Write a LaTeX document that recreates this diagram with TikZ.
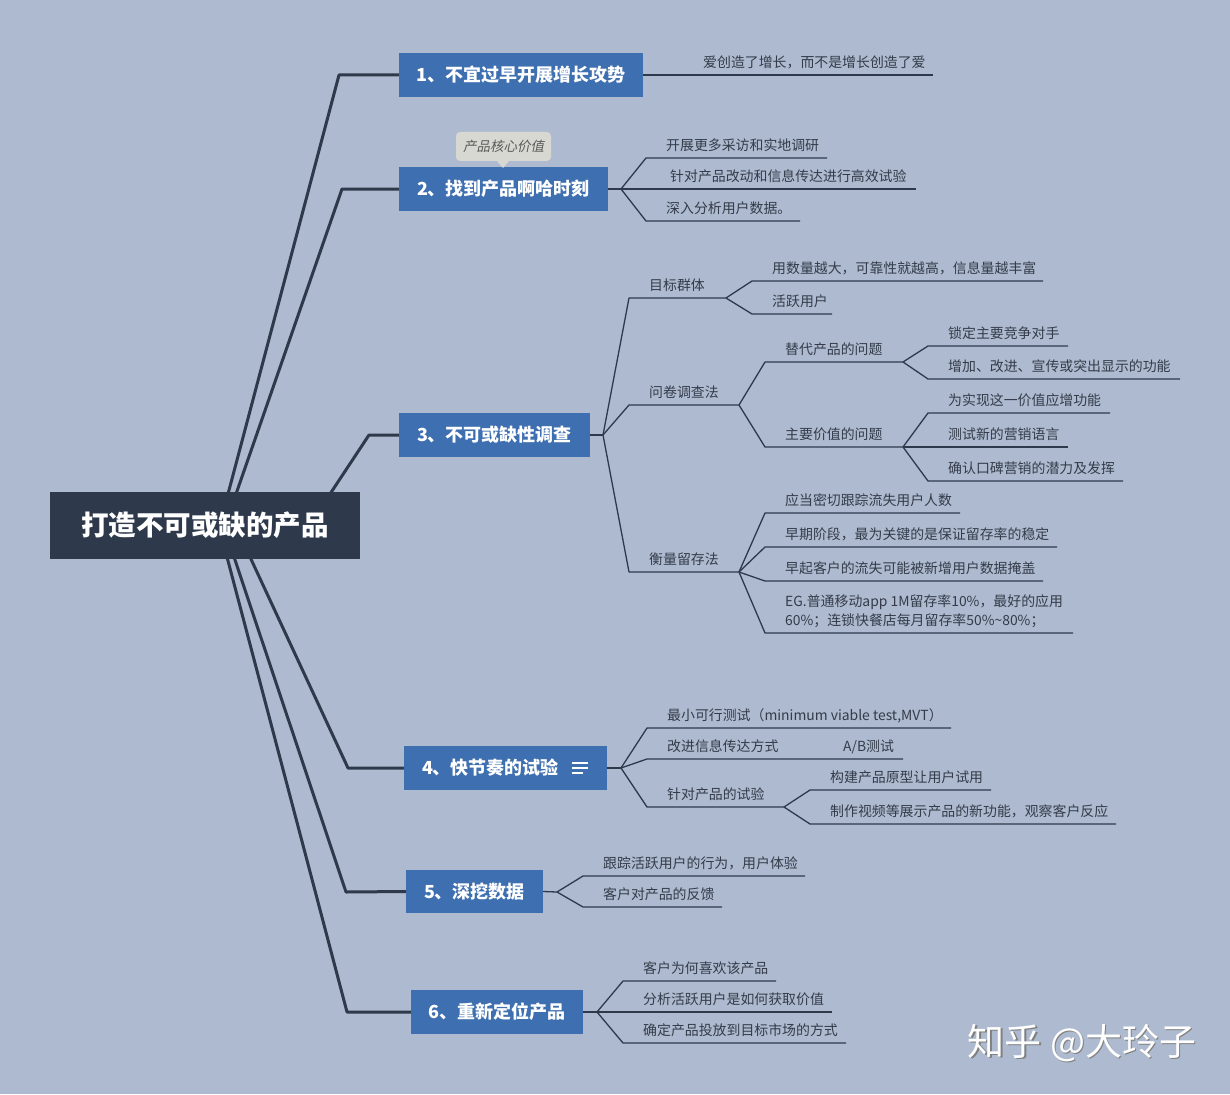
\documentclass[tikz,border=0pt]{standalone}
\usepackage{fontspec}
\setmainfont{Noto Sans CJK SC}
\newfontfamily\cjkit[FakeSlant=0.2]{Noto Sans CJK SC}
\usetikzlibrary{backgrounds}
\definecolor{bgc}{RGB}{173,186,207}
\definecolor{mainblue}{RGB}{62,111,176}
\definecolor{rootc}{RGB}{46,58,76}
\definecolor{linec}{RGB}{46,58,76}
\definecolor{txtc}{RGB}{52,60,74}
\definecolor{calloutc}{RGB}{216,216,210}
\definecolor{calltext}{RGB}{90,90,90}
\newcommand{\leafline}[6]{%
  \coordinate (#1s) at (#3,#4);
  \coordinate (#1e) at (#5,#4);
  \node[lbl] (#1) at (#3+20,#4-7.5) {#6};
  \begin{pgfonlayer}{background}
    \draw[twig] (#2) -- (#1s) -- (#1e);
  \end{pgfonlayer}}
\begin{document}
\begin{tikzpicture}[x=1pt,y=-1pt,
  mainbox/.style={fill=mainblue, text=white, font=\bfseries\fontsize{18}{20}\selectfont, minimum height=44pt, inner sep=0pt},
  lbl/.style={anchor=base west, inner sep=0pt, text=txtc, font=\fontsize{13.9}{16}\selectfont},
  trunk/.style={draw=linec, line width=3pt, line join=round},
  twig/.style={draw=linec, line width=1.3pt, line join=round}]
\useasboundingbox (0,0) rectangle (1230,1094);
\begin{pgfonlayer}{background}
  \fill[bgc] (0,0) rectangle (1230,1094);
\end{pgfonlayer}

% root and main topics
\node[fill=rootc, text=white, font=\bfseries\fontsize{27.5}{30}\selectfont, minimum width=310pt, minimum height=67pt, inner sep=0pt] (root) at (205,525.5) {打造不可或缺的产品};
\node[mainbox, minimum width=244pt] (b1) at (521,75) {1、不宜过早开展增长攻势};
\node[mainbox, minimum width=209pt] (b2) at (503.5,189) {2、找到产品啊哈时刻};
\node[mainbox, minimum width=191pt] (b3) at (494.5,435) {3、不可或缺性调查};
\node[mainbox, minimum width=203pt] (b4) at (505.5,768) {\makebox[167pt][l]{4、快节奏的试验}};
\node[mainbox, minimum width=137pt, minimum height=43pt] (b5) at (474.5,891.5) {5、深挖数据};
\node[mainbox, minimum width=172pt] (b6) at (497,1012) {6、重新定位产品};
% note icon in box 4
\draw[white, line width=1.4pt] (572,763) -- (588,763) (572,768) -- (588,768) (572,773) -- (583,773);

% callout
\node[fill=calloutc, rounded corners=4pt, minimum width=95pt, minimum height=29pt, inner sep=0pt, text=calltext, font=\cjkit\fontsize{13.5}{15}\selectfont] (tag) at (503.5,146.5) {产品核心价值};
\fill[calloutc] (496,160) -- (503,168) -- (510,160) -- cycle;

% trunks
\coordinate (s1) at (228,494); \coordinate (e1) at (339,75);
\coordinate (s2) at (236,494); \coordinate (e2) at (342,189);
\coordinate (s3) at (330,494); \coordinate (e3) at (369,435);
\coordinate (s4) at (250,557); \coordinate (e4) at (348,768);
\coordinate (s5) at (234,557); \coordinate (e5) at (346,892);
\coordinate (s6) at (227,557); \coordinate (e6) at (347,1012);
\begin{pgfonlayer}{background}
  \draw[trunk] (s1) -- (e1) -- (b1.west);
  \draw[trunk] (s2) -- (e2) -- (b2.west);
  \draw[trunk] (s3) -- (e3) -- (b3.west);
  \draw[trunk] (s4) -- (e4) -- (b4.west);
  \draw[trunk] (s5) -- (e5) -- (b5.west);
  \draw[trunk] (s6) -- (e6) -- (b6.west);
\end{pgfonlayer}

% branch 1
\coordinate (f1a) at (695,75); \coordinate (f1b) at (933,75);
\node[lbl] (t1a) at (703,67.5) {爱创造了增长，而不是增长创造了爱};
\begin{pgfonlayer}{background}
  \draw[twig] (b1.east) -- (f1a) -- (f1b);
\end{pgfonlayer}

% branch 2
\coordinate (f2) at (621,189);
\begin{pgfonlayer}{background}\draw[twig] (b2.east) -- (f2);\end{pgfonlayer}
\leafline{c21}{f2}{646}{158}{827}{开展更多采访和实地调研}
\leafline{c22}{f2}{650}{189}{916}{针对产品改动和信息传达进行高效试验}
\leafline{c23}{f2}{646}{221}{800}{深入分析用户数据。}

% branch 3
\coordinate (f3) at (603,435);
\begin{pgfonlayer}{background}\draw[twig] (b3.east) -- (f3);\end{pgfonlayer}
\leafline{A}{f3}{629}{298}{726}{目标群体}
\leafline{A1}{Ae}{752}{281}{1043}{用数量越大，可靠性就越高，信息量越丰富}
\leafline{A2}{Ae}{752}{314}{832}{活跃用户}
\leafline{B}{f3}{629}{405}{739}{问卷调查法}
\leafline{B1}{Be}{765}{362}{903}{替代产品的问题}
\leafline{B11}{B1e}{928}{346}{1068}{锁定主要竞争对手}
\leafline{B12}{B1e}{928}{379}{1180}{增加、改进、宣传或突出显示的功能}
\leafline{B2}{Be}{765}{447}{903}{主要价值的问题}
\leafline{B21}{B2e}{928}{413}{1110}{为实现这一价值应增功能}
\leafline{B22}{B2e}{928}{447}{1068}{测试新的营销语言}
\leafline{B23}{B2e}{928}{481}{1123}{确认口碑营销的潜力及发挥}
\leafline{C}{f3}{629}{572}{739}{衡量留存法}
\leafline{C1}{Ce}{765}{513}{960}{应当密切跟踪流失用户人数}
\leafline{C2}{Ce}{765}{547}{1057}{早期阶段，最为关键的是保证留存率的稳定}
\leafline{C3}{Ce}{765}{581}{1043}{早起客户的流失可能被新增用户数据掩盖}
\coordinate (C4s) at (765,633); \coordinate (C4e) at (1073,633);
\node[anchor=south west, inner sep=0pt, text=txtc, align=left, font=\fontsize{13.9}{19}\selectfont] (C4) at (785,627.8) {EG.普通移动app 1M留存率10\%，最好的应用\\60\%；连锁快餐店每月留存率50\%\textasciitilde80\%；};
\begin{pgfonlayer}{background}\draw[twig] (Ce) -- (C4s) -- (C4e);\end{pgfonlayer}

% branch 4
\coordinate (f4) at (621,768);
\begin{pgfonlayer}{background}\draw[twig] (b4.east) -- (f4);\end{pgfonlayer}
\leafline{D1}{f4}{647}{728}{951}{最小可行测试（minimum viable test,MVT）}
\leafline{D2}{f4}{647}{759}{903}{改进信息传达方式}
\node[lbl] (D2b) at (843,751.5) {A/B测试};
\leafline{D3}{f4}{647}{807}{784}{针对产品的试验}
\leafline{D31}{D3e}{810}{790}{991}{构建产品原型让用户试用}
\leafline{D32}{D3e}{810}{824}{1116}{制作视频等展示产品的新功能，观察客户反应}

% branch 5
\coordinate (f5) at (557,892);
\begin{pgfonlayer}{background}\draw[twig] (b5.east) -- (f5);\end{pgfonlayer}
\leafline{E1}{f5}{583}{876}{805}{跟踪活跃用户的行为，用户体验}
\leafline{E2}{f5}{583}{907}{722}{客户对产品的反馈}

% branch 6
\coordinate (f6) at (597,1012);
\begin{pgfonlayer}{background}\draw[twig] (b6.east) -- (f6);\end{pgfonlayer}
\leafline{F1}{f6}{623}{981}{776}{客户为何喜欢该产品}
\leafline{F2}{f6}{623}{1012}{832}{分析活跃用户是如何获取价值}
\leafline{F3}{f6}{623}{1043}{846}{确定产品投放到目标市场的方式}

% watermark
\node[text=black!50, font=\fontsize{37}{42}\selectfont, inner sep=0pt] (wmshadow) at (1083.5,1044.5) {知乎 @大玲子};
\node[text=white, font=\fontsize{37}{42}\selectfont, inner sep=0pt] (wm) at (1082,1043) {知乎 @大玲子};
\end{tikzpicture}
\end{document}
